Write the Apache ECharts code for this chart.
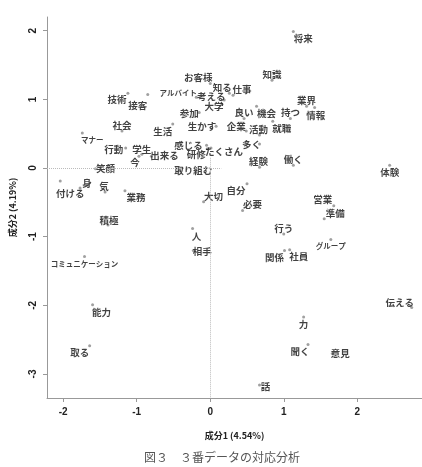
<!DOCTYPE html>
<html>
<head>
<meta charset="utf-8">
<script src="https://cdn.jsdelivr.net/npm/echarts@6/dist/echarts.min.js"></script>
<style>
  html, body { margin: 0; padding: 0; background: #fff; }
  #chart { width: 422px; height: 467px; }
</style>
</head>
<body>
<div id="chart"></div>
<script>
// words and their coordinates on dimension 1 / dimension 2
const words = [
  "将来", "知識", "お客様", "知る", "仕事", "アルバイト", "考える", "大学", "技術", "接客",
  "参加", "良い", "機会", "持つ", "業界", "情報", "社会", "生活", "生かす", "企業",
  "活動", "就職", "マナー", "行動", "学生", "今", "出来る", "感じる", "研修", "たくさん",
  "多く", "経験", "働く", "体験", "笑顔", "取り組む", "身", "付ける", "気", "業務",
  "大切", "自分", "必要", "営業", "準備", "積極", "人", "行う", "相手", "グループ",
  "関係", "社員", "コミュニケーション", "伝える", "能力", "力", "聞く", "意見", "取る", "話"
]
const dim1 = [
  1.13, 0.84, 0.00, 0.26, 0.31, -0.19, 0.19, 0.16, -1.12, -0.85,
  -0.15, 0.46, 0.63, 1.09, 1.31, 1.42, -1.20, -0.51, 0.08, 0.49,
  0.67, 0.85, -1.74, -1.15, -0.93, -0.97, -0.80, -0.05, -0.04, 0.01,
  0.67, 0.67, 1.13, 2.44, -1.56, -0.42, -1.77, -2.04, -1.43, -1.16,
  -0.09, 0.50, 0.44, 1.68, 1.55, -1.39, -0.24, 1.00, -0.23, 1.64,
  1.01, 1.08, -1.71, 2.74, -1.60, 1.27, 1.33, 1.66, -1.64, 0.67
]
const dim2 = [
  1.99, 1.28, 1.23, 1.09, 1.06, 1.03, 0.99, 0.93, 1.09, 1.07,
  0.81, 0.72, 0.90, 0.72, 0.90, 0.88, 0.54, 0.64, 0.61, 0.54,
  0.48, 0.68, 0.51, 0.29, 0.20, 0.17, 0.17, 0.33, 0.28, 0.29,
  0.35, 0.01, 0.04, 0.04, -0.01, -0.04, -0.29, -0.19, -0.35, -0.33,
  -0.49, -0.23, -0.62, -0.55, -0.74, -0.83, -0.88, -0.96, -1.20, -1.04,
  -1.20, -1.19, -1.29, -2.03, -1.99, -2.17, -2.57, -2.70, -2.59, -3.16
]
const xTicks = [-2, -1, 0, 1, 2]
const yTicks = [-3, -2, -1, 0, 1, 2]

// label placement (pixel shift of each label centre from its point)
const labelShift = [
  [10, 7], [0, -6], [-12, -6], [-7, -6], [9, -6], [-18, -4], [-13, -4], [-8, 2], [-11, 6], [-10, 11],
  [-10, 1], [0, -6], [10, 7], [0, -6], [0, -6], [1, 8], [0, -6], [-10, 7], [-14, 0], [-10, -5],
  [-1, -6], [9, 7], [10, 7], [-12, 1], [0, -5], [-4, 6], [13, -1], [-18, 0], [-11, 6], [13, 3],
  [-8, 0], [-1, -6], [0, -6], [0, 7], [10, 0], [14, 0], [7, -5], [10, 12], [-1, -6], [11, 7],
  [10, -5], [-11, 7], [10, -6], [-11, -6], [11, -5], [1, -5], [4, 8], [0, -6], [9, 1], [0, 7],
  [-10, 7], [9, 7], [0, 8], [-12, -5], [9, 8], [0, 7], [-8, 7], [8, 0], [-10, 7], [6, 1]
]

const jp = "'Noto Sans CJK JP', sans-serif"
const kata = /^[ァ-ヶー]+$/
const dotSize = 3

const points = words.map((w, i) => ({
  name: w,
  value: [dim1[i], dim2[i]],
  label: {
    show: true,
    position: [dotSize / 2 + labelShift[i][0], dotSize / 2 + labelShift[i][1]],
    align: "center",
    verticalAlign: "middle",
    fontSize: kata.test(w) ? 7.5 : 9.5,
  },
}))

const myChart = echarts.init(document.getElementById("chart"))
myChart.setOption({
  animation: false,
  grid: { left: 44, right: 0, top: 17, bottom: 69 },
  xAxis: {
    type: "value",
    min: -2.22,
    max: 2.88,
    name: "成分1 (4.54%)",
    nameLocation: "middle",
    nameGap: 33,
    nameTextStyle: { fontFamily: jp, fontSize: 9, fontWeight: "bold", color: "#222" },
    splitLine: { show: false },
    axisLine: { onZero: false, lineStyle: { color: "#999" } },
    axisTick: { customValues: xTicks, length: 4, lineStyle: { color: "#999" } },
    axisLabel: { customValues: xTicks, margin: 9, fontFamily: "Arial, sans-serif", fontSize: 10, fontWeight: "bold", color: "#222" },
  },
  yAxis: {
    type: "value",
    min: -3.35,
    max: 2.2,
    name: "成分2 (4.19%)",
    nameLocation: "middle",
    nameGap: 30,
    nameRotate: 90,
    nameTextStyle: { fontFamily: jp, fontSize: 9, fontWeight: "bold", color: "#222" },
    splitLine: { show: false },
    axisLine: { show: true, onZero: false, lineStyle: { color: "#999" } },
    axisTick: { show: true, customValues: yTicks, length: 4, lineStyle: { color: "#999" } },
    axisLabel: { customValues: yTicks, rotate: 90, margin: 9, fontFamily: "Arial, sans-serif", fontSize: 10, fontWeight: "bold", color: "#222" },
  },
  series: [
    {
      type: "scatter",
      symbol: "circle",
      symbolSize: dotSize,
      itemStyle: { color: "#888" },
      label: {
        color: "#111",
        fontFamily: jp,
        fontWeight: "bold",
        formatter: (p) => p.name,
      },
      emphasis: { disabled: true },
      markLine: {
        silent: true,
        symbol: "none",
        label: { show: false },
        lineStyle: { type: "dotted", color: "#bbb", width: 1 },
        data: [
          [{ coord: [-2.22, 0] }, { coord: [0.15, 0] }],
          [{ coord: [0, 0.15] }, { coord: [0, -3.35] }],
        ],
      },
      data: points,
    },
  ],
  graphic: [
    {
      type: "text",
      x: 222,
      y: 457,
      style: { text: "図３　３番データの対応分析", font: "12px " + jp, fill: "#555", align: "center", verticalAlign: "middle" },
    },
  ],
})

window.addEventListener("resize", () => {
  myChart.resize()
})
</script>
</body>
</html>
